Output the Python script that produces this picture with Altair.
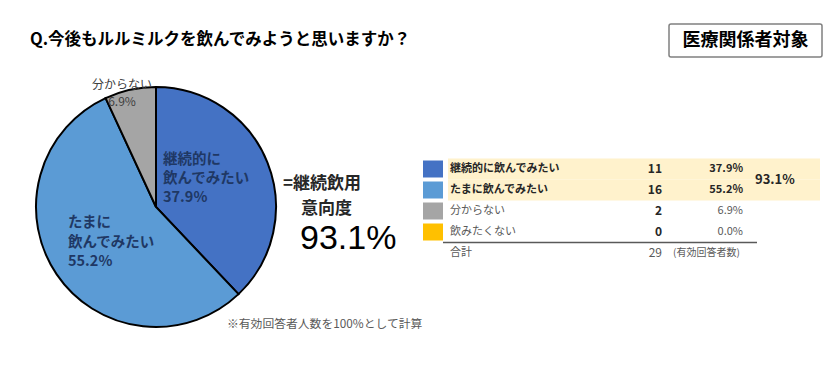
import altair as alt
import pandas as pd

# ---- data ----
categories = ["継続的に飲んでみたい", "たまに飲んでみたい", "分からない", "飲みたくない"]
counts = [11, 16, 2, 0]
percents = [37.9, 55.2, 6.9, 0.0]
colors = ["#4472C4", "#5B9BD5", "#A5A5A5", "#FFC000"]
total_label = "合計"
total_note = "(有効回答者数)"
title_text = "Q.今後もルルミルクを飲んでみようと思いますか？"
badge_text = "医療関係者対象"
intent_lines = ["=継続飲用", "意向度"]
footnote = "※有効回答者人数を100%として計算"

FONT = "Noto Sans CJK JP"

intent_value = f"{percents[0] + percents[1]:.1f}%"
rows = categories + [total_label]

df = pd.DataFrame({
    "row": categories,
    "count": counts,
    "pct": [f"{p:.1f}%" for p in percents],
    "idx": list(range(len(categories))),
})
df_total = pd.DataFrame({"row": [total_label], "count": [sum(counts)], "note": [total_note]})
df_one = pd.DataFrame({"row": [categories[0]]})

color_scale = alt.Scale(domain=categories, range=colors)
yscale = alt.Scale(type="band", domain=rows, range=[150.5, 255.5], paddingInner=0, paddingOuter=0)
Y = lambda **kw: alt.Y("row:N", scale=yscale, axis=None, **kw)

def split_label(s):
    i = s.index("に") + 1
    return [s[:i], s[i:]]

# ---- pie ----
pie = alt.Chart(df).mark_arc(radius=120, stroke="#000000", strokeWidth=2).encode(
    theta=alt.Theta("count:Q", stack=True),
    color=alt.Color("row:N", scale=color_scale, legend=None),
    order=alt.Order("idx:Q"),
    x=alt.value(148), y=alt.value(199),
)

def txt(lines, x, y, size, weight="normal", color="#000000", align="left", lh=None, font=FONT):
    kw = dict(align=align, baseline="middle", fontSize=size, fontWeight=weight, color=color, font=font)
    if lh:
        kw["lineHeight"] = lh
    return alt.Chart(df_one).mark_text(**kw).encode(
        x=alt.value(x), y=alt.value(y), text=alt.value(lines)
    )

lab1 = txt(split_label(categories[0]) + [f"{percents[0]}%"], 155, 152, 14.5, "bold", "#1F3864", lh=19)
lab2 = txt(split_label(categories[1]) + [f"{percents[1]}%"], 60, 215, 14.5, "bold", "#1F3864", lh=19.5)
lab3 = txt([categories[2], f"{percents[2]}%"], 114, 77, 12, "normal", "#404040", align="center", lh=17)

intent1 = txt(intent_lines[0], 275, 176, 17, "bold", "#262626")
intent2 = txt(intent_lines[1], 293, 201, 17, "bold", "#262626")
intent_big = txt(intent_value, 292, 231, 34, "normal", "#000000", font="Liberation Sans")

title = txt(title_text, 22, 32, 16.5, "bold", "#000000")
badge_box = alt.Chart(df_one).mark_rect(fill="#FFFFFF", stroke="#808080", strokeWidth=1.5, cornerRadius=2).encode(
    x=alt.value(661), x2=alt.value(814), y=alt.value(16), y2=alt.value(49)
)
badge = txt(badge_text, 737.5, 33, 18, "bold", "#000000", align="center")
foot = txt(footnote, 219, 316, 11.8, "normal", "#595959")

# ---- table ----
base = alt.Chart(df)
hl = base.transform_filter("datum.idx < 2").mark_rect(fill="#FFF2CC").encode(
    y=Y(), x=alt.value(440), x2=alt.value(812)
)
sw = base.mark_point(
    shape="M-1,-0.85L1,-0.85L1,0.85L-1,0.85Z", filled=True, opacity=1, strokeWidth=0, size=400
).encode(y=Y(), x=alt.value(425), color=alt.Color("row:N", scale=color_scale, legend=None))

lab_b = base.transform_filter("datum.idx < 2").mark_text(
    align="left", baseline="middle", fontSize=11, fontWeight="bold", color="#262626", font=FONT
).encode(y=Y(), x=alt.value(442), text="row:N")
lab_n = base.transform_filter("datum.idx >= 2").mark_text(
    align="left", baseline="middle", fontSize=11, color="#595959", font=FONT
).encode(y=Y(), x=alt.value(442), text="row:N")
cnt = base.mark_text(
    align="right", baseline="middle", fontSize=12, fontWeight="bold", color="#262626", font=FONT
).encode(y=Y(), x=alt.value(654), text="count:Q")
pct_b = base.transform_filter("datum.idx < 2").mark_text(
    align="right", baseline="middle", fontSize=11, fontWeight="bold", color="#262626", font=FONT
).encode(y=Y(), x=alt.value(735), text="pct:N")
pct_n = base.transform_filter("datum.idx >= 2").mark_text(
    align="right", baseline="middle", fontSize=11, color="#595959", font=FONT
).encode(y=Y(), x=alt.value(735), text="pct:N")
sum_pct = alt.Chart(df_one).mark_text(
    align="left", baseline="middle", fontSize=13, fontWeight="bold", color="#262626", font=FONT
).encode(y=Y(bandPosition=1), x=alt.value(747), text=alt.value(intent_value))

tb = alt.Chart(df_total)
rule = tb.mark_rule(color="#595959", strokeWidth=1.5).encode(
    y=Y(bandPosition=0), x=alt.value(435), x2=alt.value(749)
)
tot_lab = tb.mark_text(align="left", baseline="middle", fontSize=11, color="#595959", font=FONT).encode(
    y=Y(), x=alt.value(442), text="row:N")
tot_cnt = tb.mark_text(align="right", baseline="middle", fontSize=12, color="#595959", font=FONT).encode(
    y=Y(), x=alt.value(654), text="count:Q")
tot_note = tb.mark_text(align="left", baseline="middle", fontSize=10, color="#595959", font=FONT).encode(
    y=Y(), x=alt.value(665), text="note:N")

chart = alt.layer(
    pie, lab1, lab2, lab3, intent1, intent2, intent_big, title, badge_box, badge, foot,
    hl, sw, lab_b, lab_n, cnt, pct_b, pct_n, sum_pct, rule, tot_lab, tot_cnt, tot_note,
).properties(
    width=824, height=360, autosize=alt.AutoSizeParams(type="none"), padding=0, background="#FFFFFF"
).configure_view(stroke=None)

chart.save("out.html", embed_options={"renderer": "svg", "actions": False})
